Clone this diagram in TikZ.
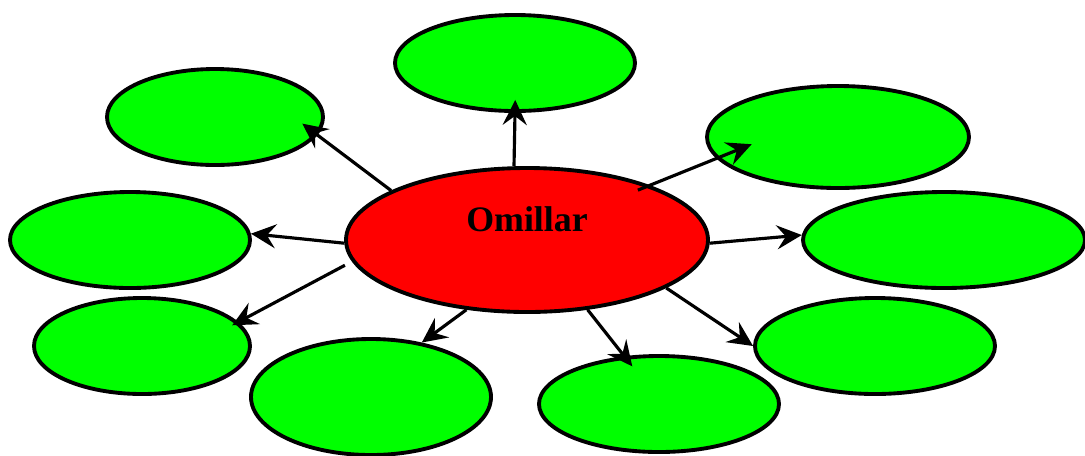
\documentclass[tikz,border=0pt]{standalone}
\usepackage{fontspec}
\setmainfont{Liberation Serif}
\usetikzlibrary{shapes.geometric,arrows.meta}
\tikzset{
  every picture/.style={
    line width=1.1pt
  },
  idea/.style={ellipse, draw, fill=green, inner sep=0pt, minimum width=2.4cm, minimum height=0.96cm},
  link/.style={-{Stealth[length=2.5mm,width=2.4mm,inset=0.9mm]}, line width=0.9pt}
}

\begin{document}
\begin{tikzpicture}
  \useasboundingbox (0,0) rectangle (10.85,4.55);

  \node[ellipse, draw, fill=red, inner sep=0pt, minimum width=3.62cm, minimum height=1.44cm,
    label={[yshift=2.1mm, font=\fontsize{10.2}{12}\selectfont\bfseries]center:Omillar}] (hub) at (5.27,2.15) {};

  \node[idea] (top) at (5.15,3.92) {};
  \node[idea, minimum width=2.16cm] (upleft) at (2.15,3.38) {};
  \node[idea, minimum width=2.62cm, minimum height=1.02cm] (upright) at (8.38,3.18) {};
  \node[idea] (left) at (1.30,2.15) {};
  \node[idea, minimum width=2.82cm] (right) at (9.44,2.15) {};
  \node[idea, minimum width=2.16cm] (lowleft) at (1.42,1.09) {};
  \node[idea, minimum height=1.16cm] (botleft) at (3.71,0.58) {};
  \node[idea] (botmid) at (6.59,0.51) {};
  \node[idea] (lowright) at (8.75,1.09) {};

  \draw[link, shorten >=-1.3mm] (hub.100) -- (top.south);
  \draw[link, shorten >=-1.9mm] (hub.160) -- (upleft.350);
  \draw[link, shorten <=-1.3mm, shorten >=-3.8mm] (hub.24) -- (upright.190);
  \draw[link] (hub.181) -- (left.3);
  \draw[link] (hub.359) -- (right.178);
  \draw[link, shorten <=0.8mm, shorten >=-0.7mm] (hub.187) -- (lowleft.14);
  \draw[link] (hub.229) -- (botleft.47);
  \draw[link, shorten >=-1.3mm] (hub.311) -- (botmid.126);
  \draw[link] (hub.341) -- (lowright.180);
\end{tikzpicture}
\end{document}
